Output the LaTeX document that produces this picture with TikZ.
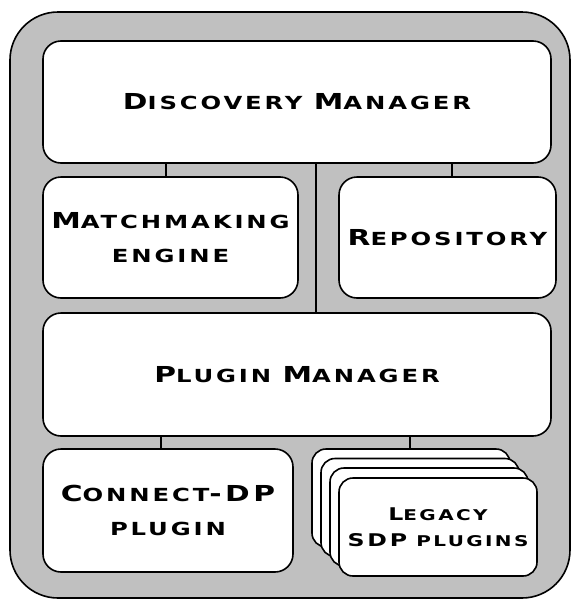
\documentclass[tikz,border=0pt]{standalone}
\usepackage{fontspec}
\newfontfamily\diagfont[FakeStretch=1.35,LetterSpace=16]{DejaVu Sans}
\definecolor{outergray}{HTML}{C0C0C0}
\newcommand\SC[2]{{\fontsize{22}{34}\selectfont #1}#2}
\newcommand\SCs[2]{{\fontsize{17.5}{26}\selectfont #1}#2}
\begin{document}
\begin{tikzpicture}[x=1pt,y=-1pt,
  box/.style={draw, line width=1.6pt, fill=white, rounded corners=18pt, inner sep=0pt, align=center,
    font=\diagfont\bfseries\fontsize{18}{34}\selectfont},
  lbox/.style={box, rounded corners=14pt, minimum width=198, minimum height=98,
    font=\diagfont\bfseries\fontsize{14.8}{26}\selectfont},
  conn/.style={line width=1.6pt}]
\useasboundingbox (0,0) rectangle (572,600);
\draw[line width=1.6pt, fill=outergray, rounded corners=48pt] (10,12) rectangle (570,598);
\coordinate (mid) at (316,0);
\coordinate (xa) at (166,0);
\coordinate (xb) at (452,0);
\coordinate (xc) at (161,0);
\coordinate (xd) at (410,0);
\node[box, minimum width=508, minimum height=122] (dm) at (297,102) {\SC{D}{ISCOVERY} \SC{M}{ANAGER}};
\node[box, minimum width=255, minimum height=121] (mm) at (170.5,237.5) {\SC{M}{ATCHMAKING}\\ENGINE};
\node[box, minimum width=217, minimum height=121] (repo) at (447.5,237.5) {\SC{R}{EPOSITORY}};
\node[box, minimum width=508, minimum height=123] (pm) at (297,374.5) {\SC{P}{LUGIN} \SC{M}{ANAGER}};
\node[box, minimum width=250, minimum height=123] (cdp) at (168,510.5) {\SC{C}{ONNECT}\SC{-DP}{}\\PLUGIN};
\node[lbox] (l1) at (411,498) {};
\node[lbox] (l2) at (420,507.5) {};
\node[lbox] (l3) at (429,517) {};
\node[lbox] (l4) at (438,527) {\SCs{L}{EGACY}\\\SCs{SDP}{ PLUGINS}};
\draw[conn] (dm.south -| xa) -- (mm.north -| xa);
\draw[conn] (dm.south -| xb) -- (repo.north -| xb);
\draw[conn] (dm.south -| mid) -- (pm.north -| mid);
\draw[conn] (pm.south -| xc) -- (cdp.north -| xc);
\draw[conn] (pm.south -| xd) -- (l1.north -| xd);
\end{tikzpicture}
\end{document}
